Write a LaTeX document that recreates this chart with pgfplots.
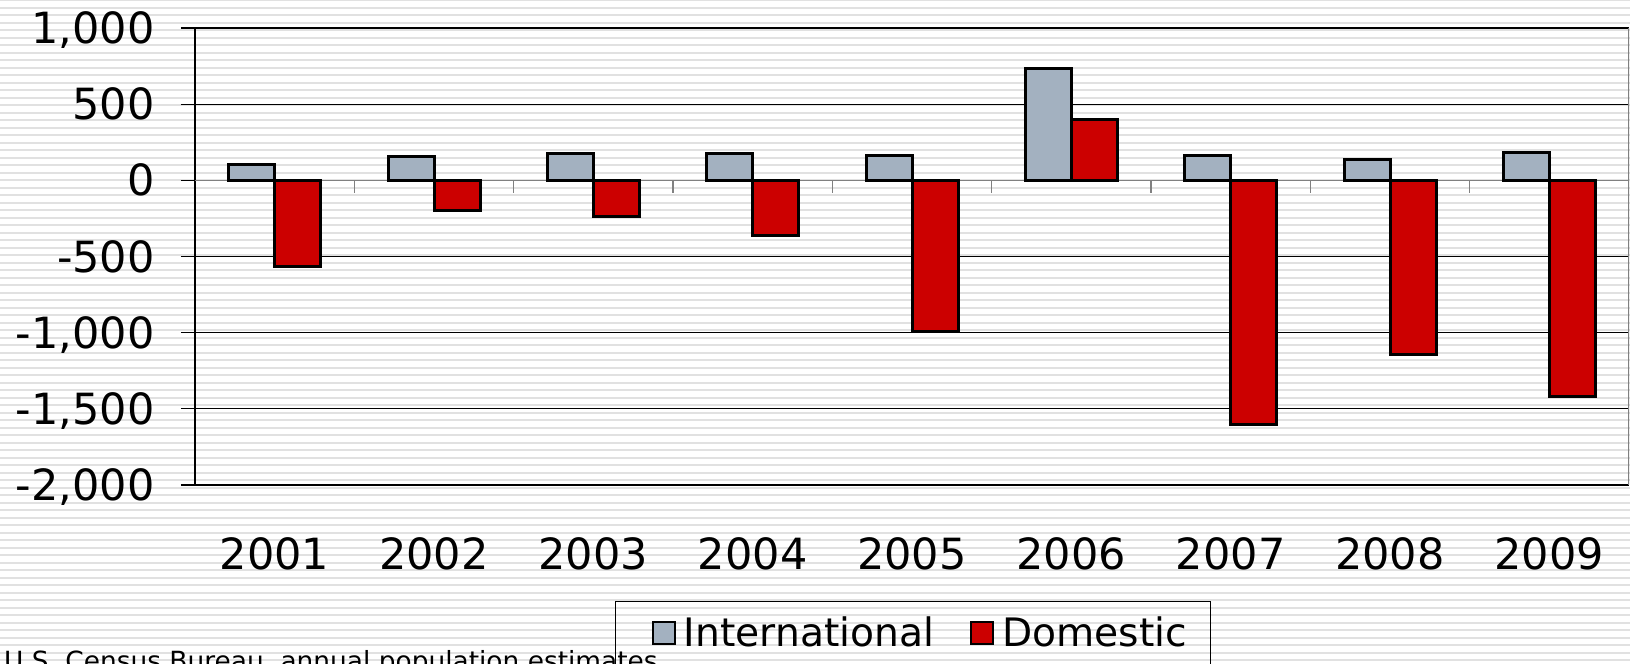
\documentclass[border=0pt]{standalone}
\usepackage{fontspec}
\setmainfont{DejaVu Sans}
\usepackage{pgfplots}
\pgfplotsset{compat=1.18}
\definecolor{intl}{RGB}{163,177,192}
\definecolor{dom}{RGB}{204,0,0}
\definecolor{stripe}{RGB}{225,225,225}
\definecolor{zeroline}{RGB}{128,128,128}

\pgfplotstableread{
x intl dom
0 105 -563
1 157 -198
2 177 -236
3 179 -364
4 160 -995
5 733 402
6 162 -1603
7 140 -1143
8 186 -1418
}\mig

\begin{document}
\begin{tikzpicture}
\useasboundingbox (0,0) rectangle (815bp,332bp);
\fill[white] (0,0) rectangle (815bp,332bp);
\foreach \k in {0,...,88} {
  \pgfmathsetmacro\yy{331.9-3.75*\k}
  \draw[stripe, line width=1.1bp] (0bp,\yy bp) -- (815bp,\yy bp);
}
\begin{axis}[
  at={(97.5bp,89.5bp)}, anchor=south west,
  scale only axis, width=717bp, height=228.5bp,
  xmin=-0.5, xmax=8.5, ymin=-2000, ymax=1000,
  axis y line*=left, axis x line*=bottom,
  ybar=0pt, bar width=23bp,
  xtick={0,...,8}, xticklabels={2001,2002,2003,2004,2005,2006,2007,2008,2009},
  xtick style={draw=none},
  ytick={-2000,-1500,-1000,-500,500,1000},
  extra y ticks={0},
  extra y tick style={grid style={draw=zeroline, line width=0.6bp}},
  ymajorgrids, grid style={black, line width=0.6bp},
  axis line style={black, line width=0.6bp},
  ytick style={black, line width=0.6bp},
  tick align=outside, major tick length=7bp,
  /pgf/number format/1000 sep={,},
  /pgf/number format/assume math mode=true,
  ticklabel style={font=\fontsize{21.5bp}{25bp}\selectfont},
  yticklabel style={anchor=base east, inner sep=0pt, yshift=-7.8bp, xshift=-13bp},
  xticklabel style={anchor=north, inner sep=0pt, yshift=-19.2bp},
  legend style={at={(0.2929,-0.2538)}, anchor=north west, draw=black, line width=0.6bp, fill=none,
    font=\fontsize{19.6bp}{22bp}\selectfont, cells={anchor=center}, nodes={inner sep=0pt},
    /tikz/every odd column/.append style={column sep=4bp},
    /tikz/every even column/.append style={column sep=11.5bp},
    inner xsep=11.5bp, inner ysep=7.5bp},
  legend columns=2,
  legend image code/.code={\path (0bp,0bp); \draw[#1, line width=1bp, draw=black] (6.4bp,-5.5bp) rectangle (17.4bp,5.5bp);},
]
\draw[zeroline, line width=0.6bp] (axis cs:-0.5,0) -- (axis cs:8.5,0);
\draw[zeroline, line width=0.6bp] (axis cs:8.5,-2000) -- (axis cs:8.5,1000);
\pgfplotsinvokeforeach{0.5,1.5,2.5,3.5,4.5,5.5,6.5,7.5}{
  \draw[zeroline, line width=0.6bp] (axis cs:#1,0) -- ([yshift=-6.5bp]axis cs:#1,0);
}
\addplot[fill=intl, draw=black, line width=1.5bp] table[x=x, y=intl] {\mig};
\addplot[fill=dom, draw=black, line width=1.5bp] table[x=x, y=dom] {\mig};
\legend{International, Domestic}
\end{axis}
\node[anchor=base east, font=\fontsize{13.2bp}{15bp}\selectfont, inner sep=0pt] at (329bp,-3bp) {U.S. Census Bureau, annual population estimates};
\end{tikzpicture}
\end{document}
